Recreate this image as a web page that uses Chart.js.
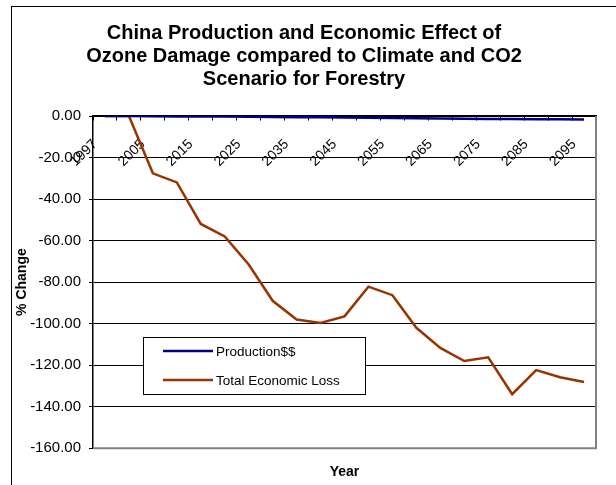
<!DOCTYPE html>
<html>
<head>
<meta charset="utf-8">
<script src="https://cdn.jsdelivr.net/npm/chart.js@4/dist/chart.umd.min.js"></script>
<style>
  html, body { margin: 0; padding: 0; background: #fff; }
  #wrap { width: 616px; height: 485px; }
</style>
</head>
<body>
<div id="wrap"><canvas id="chart" width="616" height="485"></canvas></div>
<script>
const years = ['1997', '2000', '2005', '2010', '2015', '2020', '2025', '2030', '2035', '2040', '2045',
  '2050', '2055', '2060', '2065', '2070', '2075', '2080', '2085', '2090', '2095']
const production = [0, 0, -0.1, -0.2, -0.2, -0.3, -0.4, -0.5, -0.6, -0.6, -0.7,
  -0.9, -1.0, -1.1, -1.2, -1.3, -1.4, -1.5, -1.6, -1.6, -1.7]
const totalLoss = [0, 0, -27.6, -32, -52, -58, -71.5, -89, -98, -99.7, -96.5,
  -82.2, -86.3, -102, -111.7, -118, -116.2, -134, -122.4, -125.8, -128.1]
const titleLines = ['China Production and Economic Effect of', 'Ozone Damage compared to Climate and CO2', 'Scenario for Forestry']

const FONT = "'Liberation Sans', Arial, sans-serif"

// white page with the thin frame round the whole chart
const background = {
  id: 'background',
  beforeDraw(chart) {
    const {ctx, width, height} = chart
    ctx.save()
    ctx.fillStyle = '#fff'
    ctx.fillRect(0, 0, width, height)
    ctx.strokeStyle = '#000'
    ctx.lineWidth = 1
    ctx.strokeRect(11.5, 6.5, width + 10, height + 10)
    ctx.restore()
  }
}

// grey plot-area border on the right and bottom
const plotBorder = {
  id: 'plotBorder',
  beforeDatasetsDraw(chart) {
    const {ctx, chartArea: a} = chart
    ctx.save()
    ctx.strokeStyle = '#808080'
    ctx.lineWidth = 2
    ctx.beginPath()
    ctx.moveTo(a.left, a.bottom)
    ctx.lineTo(a.right, a.bottom)
    ctx.lineTo(a.right, a.top)
    ctx.stroke()
    ctx.restore()
  }
}

// boxed legend sitting inside the plot
const boxLegend = {
  id: 'boxLegend',
  afterDatasetsDraw(chart, args, opts) {
    const {ctx, chartArea: a} = chart
    const x = a.left + opts.dx, y = a.top + opts.dy
    ctx.save()
    ctx.fillStyle = '#fff'
    ctx.fillRect(x, y, opts.w, opts.h)
    ctx.strokeStyle = '#000'
    ctx.lineWidth = 1
    ctx.strokeRect(x + 0.5, y + 0.5, opts.w, opts.h)
    ctx.font = '13.5px ' + FONT
    ctx.textBaseline = 'middle'
    chart.data.datasets.forEach((ds, i) => {
      const ly = y + 14 + i * 29
      ctx.strokeStyle = ds.borderColor
      ctx.lineWidth = 2.5
      ctx.beginPath()
      ctx.moveTo(x + 20, ly)
      ctx.lineTo(x + 70, ly)
      ctx.stroke()
      ctx.fillStyle = '#000'
      ctx.fillText(ds.label, x + 73, ly + 1)
    })
    ctx.restore()
  }
}

new Chart(document.getElementById('chart'), {
  type: 'line',
  data: {
    labels: years,
    datasets: [
      {label: 'Production$$', data: production, borderColor: '#000080', borderWidth: 2.5},
      {label: 'Total Economic Loss', data: totalLoss, borderColor: '#993300', borderWidth: 2.5}
    ]
  },
  options: {
    responsive: false,
    animation: false,
    devicePixelRatio: 1,
    layout: {padding: {left: 12, right: 20, top: 0, bottom: 0}},
    elements: {point: {radius: 0}, line: {tension: 0}},
    scales: {
      x: {
        position: {y: 0},
        offset: true,
        grid: {offset: true, drawOnChartArea: false, drawTicks: true, tickLength: 4, color: '#000'},
        border: {color: '#000', width: 1.5},
        ticks: {
          autoSkip: false, minRotation: 45, maxRotation: 45, padding: 16, labelOffset: -10, color: '#000',
          font: {family: FONT, size: 14},
          callback: (v, i) => i % 2 === 0 ? years[i] : ''
        }
      },
      xTitle: {
        type: 'category',
        labels: years,
        position: 'bottom',
        grid: {display: false},
        border: {display: false},
        ticks: {display: false},
        title: {display: true, text: 'Year', color: '#000', font: {family: FONT, size: 14, weight: 'bold'}, padding: {top: 8, bottom: 4}}
      },
      y: {
        min: -160,
        max: 0,
        afterFit: s => { s.width = 81 },
        ticks: {stepSize: 20, padding: 8, color: '#000', font: {family: FONT, size: 15}, callback: v => v.toFixed(2)},
        grid: {
          color: c => c.tick && c.tick.value === -160 ? 'rgba(0,0,0,0)' : '#000',
          lineWidth: 1, tickLength: 4, tickColor: '#000'
        },
        border: {color: '#000', width: 1.5},
        title: {display: true, text: '% Change', color: '#000', font: {family: FONT, size: 14, weight: 'bold'}, padding: {top: 2, bottom: 0}}
      }
    },
    plugins: {
      legend: {display: false},
      tooltip: {enabled: false},
      title: {
        display: true,
        text: titleLines,
        color: '#000',
        font: {family: FONT, size: 20, weight: 'bold', lineHeight: 1.15},
        padding: {top: 22, bottom: 25}
      },
      boxLegend: {dx: 50, dy: 221, w: 222, h: 57}
    }
  },
  plugins: [background, plotBorder, boxLegend]
})
</script>
</body>
</html>
